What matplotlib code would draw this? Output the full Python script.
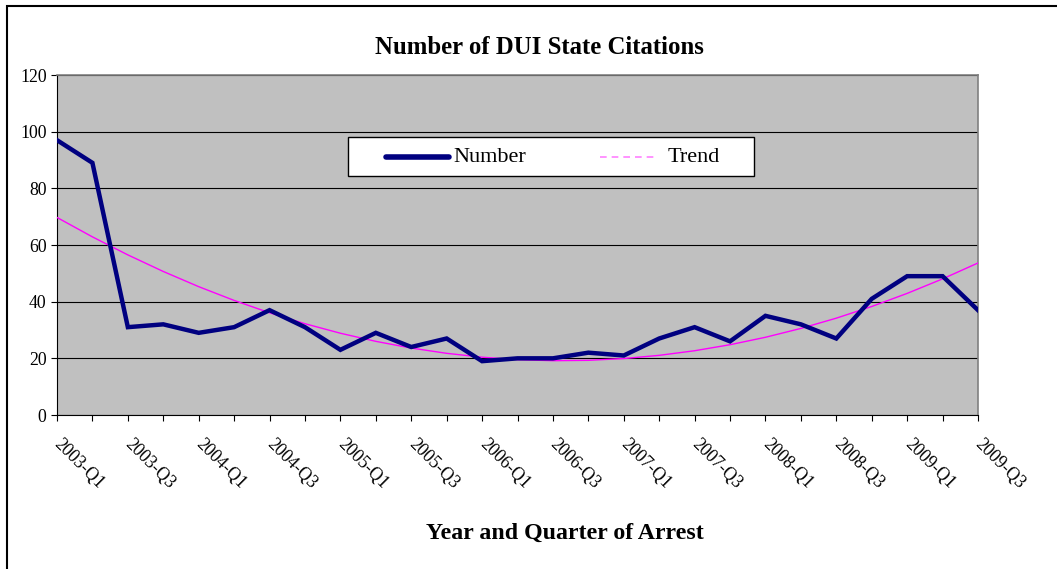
import numpy as np
import matplotlib.pyplot as plt
from matplotlib.lines import Line2D
from matplotlib.patches import Rectangle

plt.rcParams['font.family'] = ['Liberation Serif', 'DejaVu Serif']

# quarters 2003-Q1 .. 2009-Q3
quarters = [f"{y}-Q{q}" for y in range(2003, 2010) for q in range(1, 5)][:27]
counts = [97, 89, 31, 32, 29, 31, 37, 31, 23, 29, 24, 27, 19, 20, 20, 22,
          21, 27, 31, 26, 35, 32, 27, 41, 49, 49, 37]

x = np.arange(len(counts))
# 2nd order polynomial trend, like the spreadsheet trendline
coef = np.polyfit(x, counts, 2)
trend = np.polyval(coef, x)

W, H = 1057, 569
fig = plt.figure(figsize=(W / 100, H / 100), dpi=100)


def fx(px):
    return px / W


def fy(py):
    return 1 - py / H


# outer chart border
fig.patches.append(Rectangle((fx(7), -0.1), 1.2, 1.1 - 6 / H, transform=fig.transFigure,
                             fill=False, edgecolor='black', linewidth=1.5))
ax = fig.add_axes([fx(57), fy(415), (978 - 57) / W, (415 - 75) / H])
ax.set_facecolor('#C0C0C0')

ax.plot(x, trend, color='#FF00FF', linewidth=1, zorder=3)
ax.plot(x, counts, color='#000080', linewidth=3.2, zorder=4, solid_joinstyle='miter')

ax.set_xlim(0, len(counts) - 1)
ax.set_ylim(0, 120)
ax.set_yticks(range(0, 121, 20))
ax.yaxis.grid(True, color='black', linewidth=0.8)
ax.set_axisbelow(True)
ax.set_xticks(x)
ax.set_xticklabels([q if i % 2 == 0 else '' for i, q in enumerate(quarters)],
                   rotation=-45, ha='left', va='center', rotation_mode='anchor')
ax.tick_params(axis='x', length=4, pad=15, labelsize=12.8)
ax.tick_params(axis='y', length=4, labelsize=12.8)
for s in ['top', 'right']:
    ax.spines[s].set_color('#808080')
    ax.spines[s].set_linewidth(1.2)

fig.text(fx(539), fy(47), 'Number of DUI State Citations', ha='center', va='center',
         fontsize=17.8, fontweight='bold')
fig.text(fx(565), fy(533), 'Year and Quarter of Arrest', ha='center', va='center',
         fontsize=17.2, fontweight='bold')

# legend box
fig.patches.append(Rectangle((fx(348), fy(176)), (754 - 348) / W, (176 - 137) / H,
                             transform=fig.transFigure, facecolor='white',
                             edgecolor='black', linewidth=1, zorder=5))
fig.lines.append(Line2D([fx(386), fx(449)], [fy(157), fy(157)], transform=fig.transFigure,
                        color='#000080', linewidth=4, solid_capstyle='round', zorder=6))
fig.lines.append(Line2D([fx(600), fx(656)], [fy(157), fy(157)], transform=fig.transFigure,
                        color='#FF80FF', linewidth=1.2, linestyle=(0, (4, 3)), zorder=6))
fig.text(fx(453), fy(158), 'Number', ha='left', va='center', fontsize=16, zorder=6)
fig.text(fx(668), fy(158), 'Trend', ha='left', va='center', fontsize=16, zorder=6)

fig.savefig('out.png', dpi=100)
